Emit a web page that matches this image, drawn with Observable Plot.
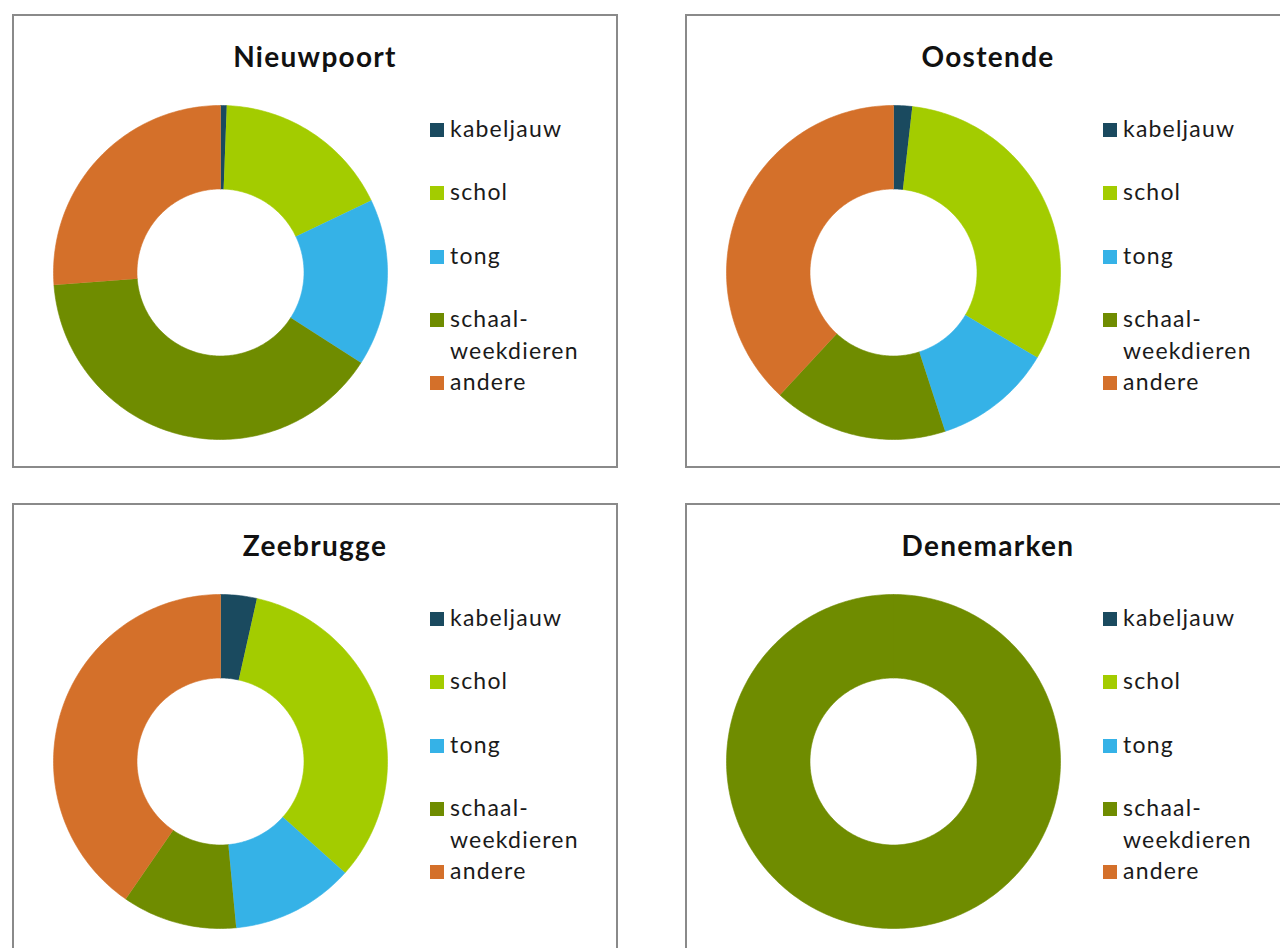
<!DOCTYPE html>
<html><head><meta charset="utf-8">
<script src="https://cdn.jsdelivr.net/npm/d3@7"></script>
<script src="https://cdn.jsdelivr.net/npm/@observablehq/plot@0.6"></script>
<style>
body{margin:0;background:#fff;width:1280px;height:948px;overflow:hidden;position:relative;font-family:Lato,"Open Sans",sans-serif;}
.panel{position:absolute;border:2px solid #8a8a8a;box-sizing:border-box;background:#fff}
.title{position:absolute;font-weight:bold;font-size:28px;letter-spacing:1.3px;color:#111;transform:translate(-50%,-50%);white-space:nowrap}
.leg{position:absolute;font-size:23px;letter-spacing:1.2px;color:#1a1a1a;line-height:1;transform:translateY(-55%);white-space:nowrap}
.sw{position:absolute;width:14px;height:14px;transform:translateY(-50%)}
.chart{position:absolute}
</style></head><body>
<script>
// ---- data ----
const categories = ["kabeljauw", "schol", "tong", "schaal-weekdieren", "andere"];
const legendLabels = ["kabeljauw", "schol", "tong", "schaal-\nweekdieren", "andere"];
const colors = ["#1a4a5f", "#a3cc00", "#35b2e7", "#6f8c00", "#d4702a"];
const ports = ["Nieuwpoort", "Oostende", "Zeebrugge", "Denemarken"];
const nieuwpoort = [0.6, 17.3, 16.2, 39.7, 26.2];
const oostende = [1.8, 31.7, 11.5, 16.9, 38.1];
const zeebrugge = [3.5, 33.1, 11.9, 11.1, 40.4];
const denemarken = [0, 0, 0, 100, 0];
const portValues = [nieuwpoort, oostende, zeebrugge, denemarken];

// ---- layout ----
const panelOrigins = [[12, 14], [685, 14], [12, 503], [685, 503]];
const panelW = 606, panelH = 454;
const innerRatio = 0.5;
const size = 340, outerPx = 167;

function slices(values) {
  const pie = d3.pie().sort(null).value(d => d)(values);
  const pts = [];
  pie.forEach((p, i) => {
    if (p.value <= 0) return;
    const a0 = p.startAngle, a1 = p.endAngle;
    const n = Math.max(2, Math.ceil((a1 - a0) / (Math.PI / 180)));
    for (let k = 0; k <= n; k++) {
      const a = a0 + (a1 - a0) * k / n;
      pts.push({cat: categories[i], x: Math.sin(a), y: Math.cos(a)});
    }
    for (let k = n; k >= 0; k--) {
      const a = a0 + (a1 - a0) * k / n;
      pts.push({cat: categories[i], x: innerRatio * Math.sin(a), y: innerRatio * Math.cos(a)});
    }
  });
  return pts;
}

ports.forEach((port, pi) => {
  const [ox, oy] = panelOrigins[pi];
  const panel = document.createElement("div");
  panel.className = "panel";
  panel.style.left = ox + "px"; panel.style.top = oy + "px";
  panel.style.width = panelW + "px"; panel.style.height = panelH + "px";
  document.body.appendChild(panel);

  const t = document.createElement("div");
  t.className = "title";
  t.textContent = port;
  t.style.left = (ox + 303) + "px"; t.style.top = (oy + 42) + "px";
  document.body.appendChild(t);

  const half = size / 2 / outerPx;
  const chart = Plot.plot({
    width: size, height: size, margin: 0,
    x: {domain: [-half, half], axis: null},
    y: {domain: [-half, half], axis: null},
    color: {domain: categories, range: colors},
    marks: [
      Plot.line(slices(portValues[pi]), {x: "x", y: "y", z: "cat", fill: "cat", stroke: "cat", strokeWidth: 0.6, curve: "linear"})
    ]
  });
  const wrap = document.createElement("div");
  wrap.className = "chart";
  wrap.style.left = (ox + 208 - size / 2) + "px";
  wrap.style.top = (oy + 258 - size / 2) + "px";
  wrap.appendChild(chart);
  document.body.appendChild(wrap);

  const rowY = [116, 179, 243, 306, 369];
  legendLabels.forEach((lab, i) => {
    const sw = document.createElement("div");
    sw.className = "sw";
    sw.style.background = colors[i];
    sw.style.left = (ox + 418) + "px"; sw.style.top = (oy + rowY[i]) + "px";
    document.body.appendChild(sw);
    const lines = lab.split("\n");
    lines.forEach((ln, j) => {
      const tx = document.createElement("div");
      tx.className = "leg";
      tx.textContent = ln;
      tx.style.left = (ox + 438) + "px"; tx.style.top = (oy + rowY[i] + 32 * j) + "px";
      document.body.appendChild(tx);
    });
  });
});
</script>
</body></html>
